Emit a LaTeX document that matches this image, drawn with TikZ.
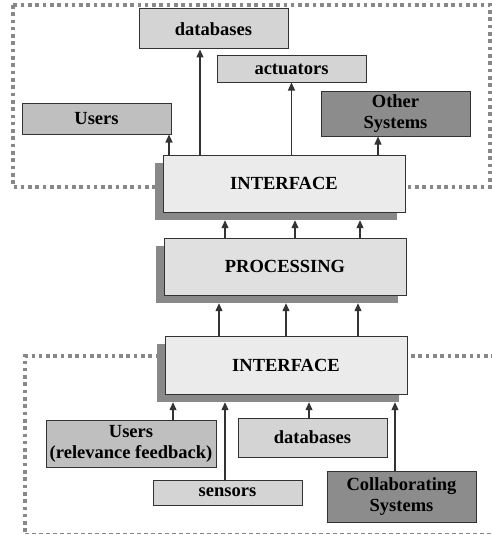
\documentclass[tikz,border=0pt]{standalone}
\usepackage{fontspec}
\setmainfont{Liberation Serif}
\usetikzlibrary{arrows.meta}
\definecolor{shadowgray}{HTML}{898989}
\definecolor{framegray}{HTML}{888888}
\definecolor{edgegray}{HTML}{333333}

\begin{document}
\begin{tikzpicture}[
			     x=1pt, y=-1pt,
			     font=\fontsize{18.5}{21}\selectfont\bfseries,
			     box/.style={draw=edgegray, line width=1pt, inner sep=0pt, align=center, minimum width=149pt},
			     light/.style={box, fill=black!17},
			     mid/.style={box, fill=black!25},
			     dark/.style={box, fill=black!45},
			     layerbox/.style={box, minimum width=242pt, minimum height=57pt},
			     shadowbox/.style={fill=shadowgray, inner sep=0pt, minimum width=242pt, minimum height=57pt},
			     dotted frame/.style={draw=framegray, line width=3.4pt, dash pattern=on 3.6pt off 3.7pt},
			     normal line/.style={-{Triangle[length=8pt,width=7pt]}, draw=edgegray, line width=1.1pt}
			     ]
\useasboundingbox (0,0) rectangle (492,535);
% frames
\draw[dotted frame] (13,5) rectangle (490,187);
\draw[dotted frame] (495,356) -- (25,356) -- (25,532);
\draw[draw=framegray, line width=1.4pt, dash pattern=on 4pt off 3pt] (25,533.5) -- (495,533.5);
%
% outputs
\node[light, minimum height=40pt] (dbout) at (213.5,29) {databases};
\node[light, minimum height=26pt] (actuators) at (291.5,69) {actuators};
\node[mid, minimum height=31pt] (usersout) at (96.5,118.5) {Users};
\node[dark, minimum height=45pt] (others) at (395.5,113.5) {Other\\Systems};
%
% layers
\node[shadowbox] (ifout-sh) at (276,191.5) {};
\node[layerbox, fill=black!8] (ifout) at (284,183.5) {INTERFACE};
\node[shadowbox] (proc-sh) at (277,274.5) {};
\node[layerbox, fill=black!12] (proc) at (285,266.5) {PROCESSING};
\node[shadowbox, minimum height=58pt] (ifin-sh) at (278,373) {};
\node[layerbox, minimum height=58pt, fill=black!8] (ifin) at (286,365) {INTERFACE};
%
% inputs
\node[mid, minimum width=170pt, minimum height=47pt] (usersin) at (131,443.5) {Users\\(relevance feedback)};
\node[light, minimum height=25pt] (sensors) at (227.5,492.5) {sensors};
\node[light, minimum height=39pt] (dbin) at (312.5,437.5) {databases};
\node[dark, minimum height=51pt] (collab) at (401.5,496.5) {Collaborating\\Systems};
%
\path (ifout.north -| 169,0) edge[normal line] (usersout.south -| 169,0);
\path (ifout.north -| 200,0) edge[normal line] (dbout.south -| 200,0);
\path (ifout.north -| actuators.south) edge[normal line] (actuators.south);
\path (ifout.north -| 378,0) edge[normal line] (others.south -| 378,0);
%
\foreach \xa in {225,295,360}
  \path (proc.north -| \xa,0) edge[normal line] (ifout-sh.south -| \xa,0);
\foreach \xb in {219,286,358}
  \path (ifin.north -| \xb,0) edge[normal line] (proc-sh.south -| \xb,0);
%
\path (usersin.north -| 173,0) edge[normal line] (ifin-sh.south -| 173,0);
\path (sensors.north -| 225,0) edge[normal line] (ifin-sh.south -| 225,0);
\path (dbin.north -| 309,0) edge[normal line] (ifin-sh.south -| 309,0);
\path (collab.north -| 395,0) edge[normal line] (ifin-sh.south -| 395,0);
\end{tikzpicture}
\end{document}
